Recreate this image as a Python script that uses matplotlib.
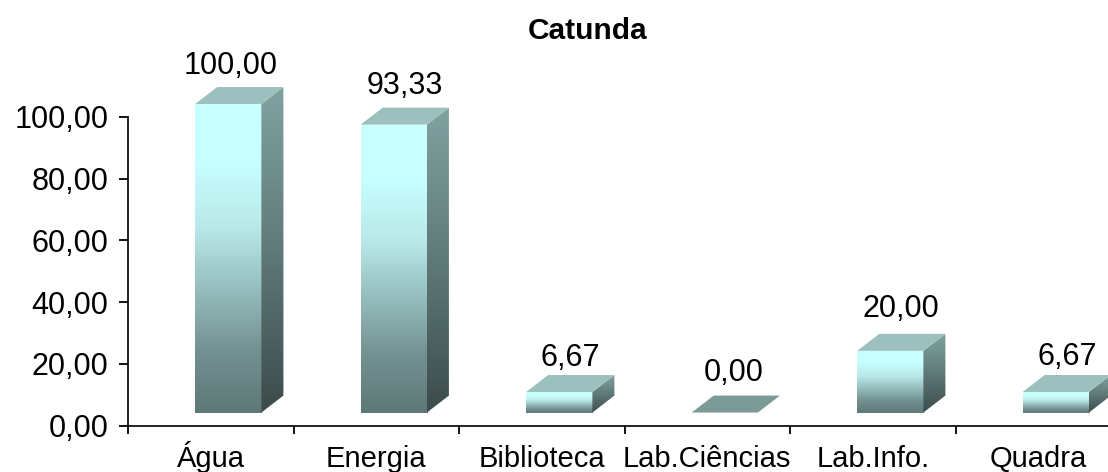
import numpy as np
import matplotlib
matplotlib.use("Agg")
import matplotlib.pyplot as plt
from matplotlib.colors import LinearSegmentedColormap
from matplotlib.patches import Polygon

plt.rcParams['font.family'] = ['Liberation Sans', 'DejaVu Sans']

categories = ['Água', 'Energia', 'Biblioteca', 'Lab.Ciências', 'Lab.Info.', 'Quadra']
values = [100.00, 93.33, 6.67, 0.00, 20.00, 6.67]
value_labels = ['100,00', '93,33', '6,67', '0,00', '20,00', '6,67']
y_ticks = [0, 20, 40, 60, 80, 100]
y_tick_labels = ['0,00', '20,00', '40,00', '60,00', '80,00', '100,00']

# hand placed labels in the original, pixels off the box top
nudge_x = [-9, 0, 0, -2, 0, 0]
nudge_y = [13, 14, 9, 15, 17, 10]

# fake 3d box, in data units
bar_w = 0.40
shift_x = 0.106
shift_y = 4.2
depth_x = 0.133
depth_y = 5.5

front_cmap = LinearSegmentedColormap.from_list('front', [
    (0.0, (95 / 255, 120 / 255, 120 / 255)),
    (0.2, (115 / 255, 145 / 255, 145 / 255)),
    (0.4, (150 / 255, 190 / 255, 190 / 255)),
    (0.6, (185 / 255, 232 / 255, 232 / 255)),
    (0.82, (200 / 255, 255 / 255, 255 / 255)),
    (1.0, (200 / 255, 255 / 255, 255 / 255)),
])
side_cmap = LinearSegmentedColormap.from_list('side', [
    (0.0, (60 / 255, 75 / 255, 75 / 255)),
    (0.5, (95 / 255, 122 / 255, 120 / 255)),
    (1.0, (128 / 255, 162 / 255, 160 / 255)),
])
top_color = (155 / 255, 192 / 255, 189 / 255)
flat_color = (125 / 255, 155 / 255, 150 / 255)

fig = plt.figure(figsize=(11.08, 4.72), dpi=100)
# axes runs past the right edge of the picture, like the original
ax = fig.add_axes([128 / 1108, (472 - 425.5) / 472, 993 / 1108, 308.5 / 472])
grad = np.linspace(1, 0, 128).reshape(-1, 1)

for i, v in enumerate(values):
    x0 = i + 0.5 - bar_w / 2 + shift_x
    x1 = x0 + bar_w
    y0 = shift_y
    y1 = y0 + v
    if v == 0:
        ax.add_patch(Polygon([(x0, y0), (x1, y0), (x1 + depth_x, y0 + depth_y), (x0 + depth_x, y0 + depth_y)],
                             facecolor=flat_color, edgecolor='none', clip_on=False))
    else:
        ax.imshow(grad, cmap=front_cmap, extent=(x0, x1, y0, y1), aspect='auto', vmin=0, vmax=1, clip_on=False, zorder=2)
        side = Polygon([(x1, y0), (x1 + depth_x, y0 + depth_y), (x1 + depth_x, y1 + depth_y), (x1, y1)],
                       facecolor='none', edgecolor='none', transform=ax.transData, clip_on=False)
        ax.add_patch(side)
        im = ax.imshow(grad, cmap=side_cmap, extent=(x1, x1 + depth_x, y0, y1 + depth_y), aspect='auto', vmin=0, vmax=1, zorder=2)
        # image is cut to the axes unless the clip box is the whole figure
        im.set_clip_box(fig.bbox)
        im.set_clip_path(side)
        ax.add_patch(Polygon([(x0, y1), (x1, y1), (x1 + depth_x, y1 + depth_y), (x0 + depth_x, y1 + depth_y)],
                             facecolor=top_color, edgecolor='none', clip_on=False, zorder=2))
    ax.annotate(value_labels[i], xy=((x0 + x1 + depth_x) / 2, y1 + depth_y), xytext=(nudge_x[i], nudge_y[i]),
                textcoords='offset pixels', ha='center', va='baseline', fontsize=22, color='black', annotation_clip=False)

ax.set_xlim(0, 6)
ax.set_ylim(0, 100)

for s in ['top', 'right']:
    ax.spines[s].set_visible(False)
for s in ['left', 'bottom']:
    ax.spines[s].set_linewidth(1.3)
    ax.spines[s].set_color('#111111')

ax.set_yticks(y_ticks)
ax.set_yticklabels(y_tick_labels, fontsize=22)
ax.set_xticks(range(7))
ax.set_xticklabels([])
ax.set_xticks(np.arange(len(categories)) + 0.5, minor=True)
ax.set_xticklabels(categories, minor=True, fontsize=21, va='baseline')
ax.tick_params(axis='y', length=6.5, width=1.3, pad=7.5)
ax.tick_params(axis='x', which='major', length=6, width=1.3)
ax.tick_params(axis='x', which='minor', length=0, pad=30)

fig.text(587.5 / 1108, 1 - 31 / 472, 'Catunda', ha='center', va='center', fontsize=21.5, fontweight='bold')

fig.savefig('out.png', dpi=100)
